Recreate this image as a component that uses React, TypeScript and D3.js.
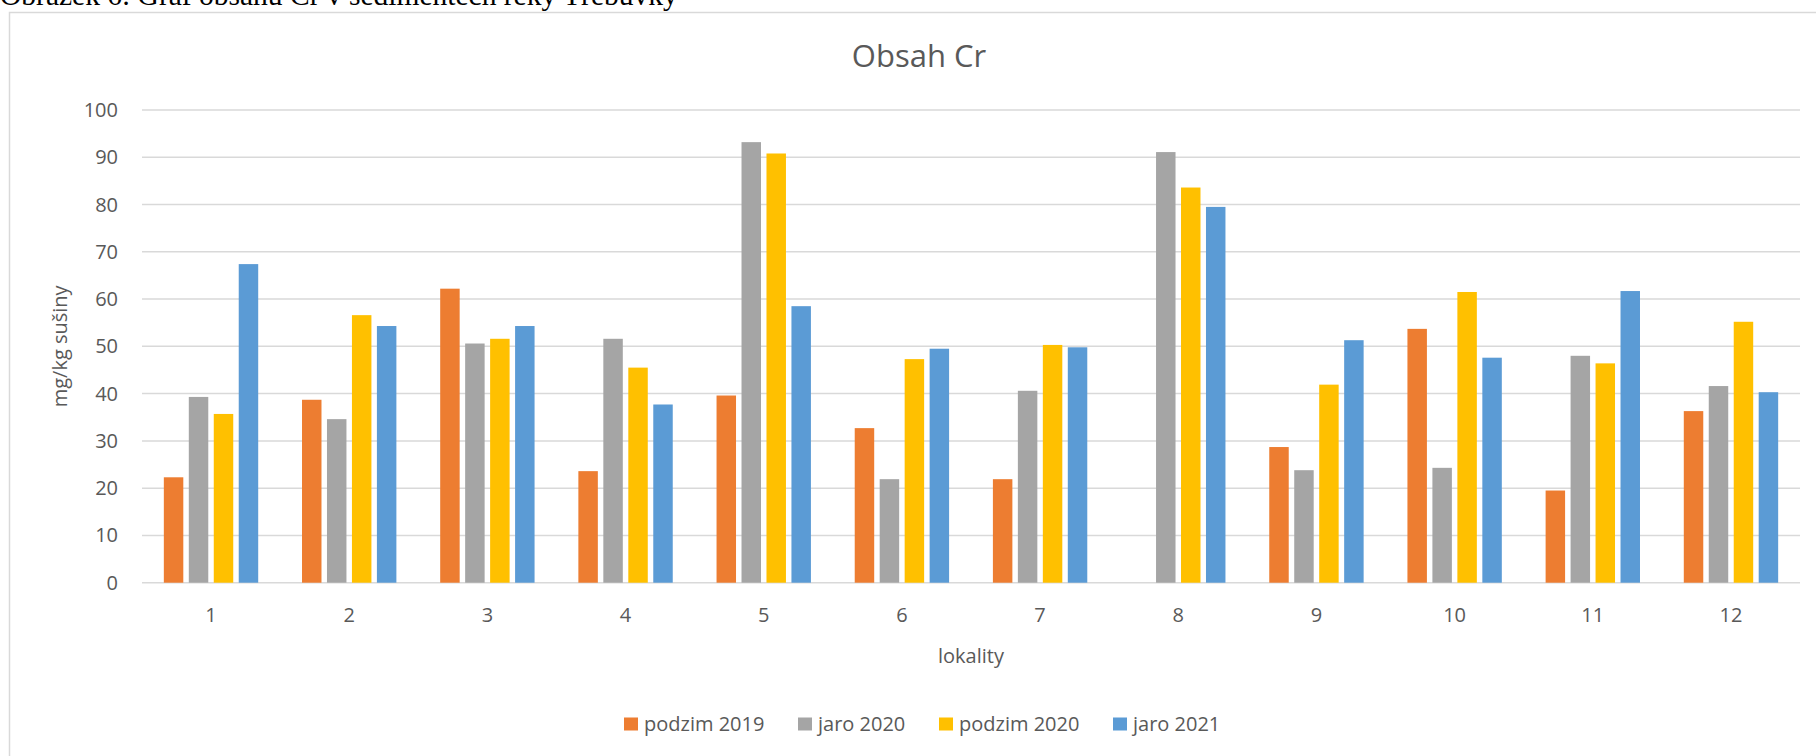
import * as d3 from 'd3'

// lokality and the four sampling campaigns (mg/kg sušiny)
const categories = ['1', '2', '3', '4', '5', '6', '7', '8', '9', '10', '11', '12']
const seriesNames = ['podzim 2019', 'jaro 2020', 'podzim 2020', 'jaro 2021']
const podzim2019 = [22.3, 38.7, 62.2, 23.6, 39.6, 32.7, 21.9, null, 28.7, 53.7, 19.5, 36.3]
const jaro2020 = [39.3, 34.6, 50.6, 51.6, 93.2, 21.9, 40.6, 91.1, 23.8, 24.3, 48.0, 41.6]
const podzim2020 = [35.7, 56.6, 51.6, 45.5, 90.8, 47.3, 50.3, 83.6, 41.9, 61.5, 46.4, 55.2]
const jaro2021 = [67.4, 54.3, 54.3, 37.7, 58.5, 49.5, 49.8, 79.5, 51.3, 47.6, 61.7, 40.3]
const yTicks = [0, 10, 20, 30, 40, 50, 60, 70, 80, 90, 100]
const colors = ['#ED7D31', '#A5A5A5', '#FFC000', '#5B9BD5']

const width = 1816, height = 756
const margin = { top: 110, right: 16, bottom: 173.3, left: 142 }
const font = '"Open Sans", "Noto Sans", sans-serif'
const textColor = '#595959'
const legendX = [624, 798, 939, 1113]

export default function App() {
  const values = [podzim2019, jaro2020, podzim2020, jaro2021]

  const x0 = d3.scaleBand()
    .domain(categories)
    .range([margin.left, width - margin.right])
    .paddingInner(0.317)
    .paddingOuter(0.158)

  const x1 = d3.scaleBand()
    .domain(seriesNames)
    .range([0, x0.bandwidth()])
    .paddingInner(0.22)

  const y = d3.scaleLinear()
    .domain([0, 100])
    .range([height - margin.bottom, margin.top])

  const plotCenter = (margin.left + width - margin.right) / 2

  return (
    <div style={{ position: 'fixed', left: 0, top: 0, width, height, background: '#fff' }}>
      <svg width={width} height={height} style={{ display: 'block' }}>
        <text x={0} y={5} fontFamily='"Liberation Serif", "Times New Roman", serif' fontSize={29.5} fill="#000">
          Obrázek 6: Graf obsahu Cr v sedimentech řeky Třebůvky
        </text>
        <rect x={9.5} y={12.5} width={width + 20} height={height} fill="#fff" stroke="#d9d9d9" strokeWidth={1.5} />

        <text x={919} y={67} textAnchor="middle" fontFamily={font} fontSize={31} fill={textColor}>Obsah Cr</text>

        {yTicks.map(t => (
          <g key={t}>
            <line x1={margin.left} x2={width - margin.right} y1={y(t)} y2={y(t)} stroke="#d9d9d9" strokeWidth={1.5} />
            <text x={118} y={y(t)} dy="0.35em" textAnchor="end" fontFamily={font} fontSize={20} fill={textColor}>{t}</text>
          </g>
        ))}

        {values.map((vals, si) => (
          <g key={seriesNames[si]} fill={colors[si]}>
            {vals.map((v, ci) => v == null ? null : (
              <rect key={ci}
                x={(x0(categories[ci]) ?? 0) + (x1(seriesNames[si]) ?? 0)}
                y={y(v)}
                width={x1.bandwidth()}
                height={y(0) - y(v)} />
            ))}
          </g>
        ))}

        {categories.map(c => (
          <text key={c} x={(x0(c) ?? 0) + x0.bandwidth() / 2} y={615} dy="0.35em" textAnchor="middle"
            fontFamily={font} fontSize={20} fill={textColor}>{c}</text>
        ))}

        <text x={plotCenter} y={656} dy="0.35em" textAnchor="middle" fontFamily={font} fontSize={20} fill={textColor}>lokality</text>
        <text transform={`translate(60,${y(50)}) rotate(-90)`} dy="0.35em" textAnchor="middle"
          fontFamily={font} fontSize={20} fill={textColor}>mg/kg sušiny</text>

        {seriesNames.map((s, i) => (
          <g key={s} transform={`translate(${legendX[i]},724)`}>
            <rect x={0} y={-6.5} width={14} height={13} fill={colors[i]} />
            <text x={20} y={0} dy="0.35em" fontFamily={font} fontSize={20} fill={textColor}>{s}</text>
          </g>
        ))}
      </svg>
    </div>
  )
}
